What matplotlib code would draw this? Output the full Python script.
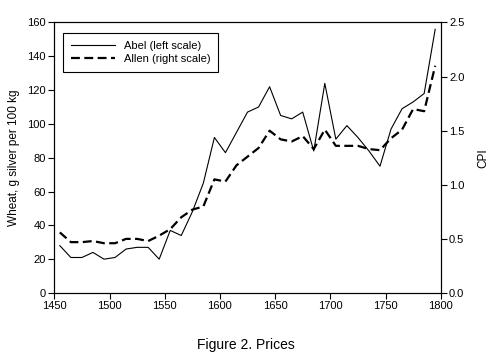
import numpy as np
import matplotlib
matplotlib.use("Agg")
import matplotlib.pyplot as plt

plt.rcParams['font.family'] = ['Liberation Sans', 'DejaVu Sans']

# Decade midpoints
years = list(range(1455, 1800, 10))

# Abel wheat price, g silver per 100 kg (left scale)
abel = [28, 21, 21, 24, 20, 21, 26, 27, 27, 20,
        37, 34, 48, 65, 92, 83, 95, 107, 110, 122,
        105, 103, 107, 84, 124, 91, 99, 92, 84, 75,
        97, 109, 113, 118, 156]

# Allen CPI (right scale)
allen = [0.56, 0.47, 0.47, 0.48, 0.46, 0.46, 0.50, 0.50, 0.48, 0.53,
         0.59, 0.70, 0.77, 0.80, 1.05, 1.03, 1.18, 1.26, 1.34, 1.50,
         1.42, 1.40, 1.45, 1.33, 1.51, 1.36, 1.36, 1.36, 1.33, 1.32,
         1.43, 1.51, 1.70, 1.68, 2.10]

fig = plt.figure(figsize=(4.91, 3.57), dpi=100)
ax = fig.add_axes([0.1106, 0.1793, 0.787, 0.7577])
ax2 = ax.twinx()

l1, = ax.plot(years, abel, color='black', lw=0.8, label='Abel (left scale)')
l2, = ax2.plot(years, allen, color='black', lw=1.6, dashes=(4, 2),
               label='Allen (right scale)')

ax.set_xlim(1450, 1800)
ax.set_ylim(0, 160)
ax2.set_ylim(0, 2.5)
ax.set_xticks(range(1450, 1801, 50))
ax.set_yticks(range(0, 161, 20))
ax2.set_yticks(np.arange(0, 2.51, 0.5))
ax2.set_yticklabels([f"{v:.1f}" for v in np.arange(0, 2.51, 0.5)])

for a in (ax, ax2):
    a.tick_params(direction='out', length=4, width=0.8, labelsize=8, pad=2)
    for s in a.spines.values():
        s.set_linewidth(0.8)

ax.set_ylabel("Wheat, g silver per 100 kg", fontsize=8.5, labelpad=5)
ax2.set_ylabel("CPI", fontsize=8.5, labelpad=9)

leg = ax.legend(handles=[l1, l2], loc='upper left', fontsize=8,
                bbox_to_anchor=(0.022, 0.961), borderaxespad=0,
                fancybox=False, edgecolor='black', framealpha=1,
                handlelength=4.0, handletextpad=0.8,
                borderpad=0.7, labelspacing=0.3)
leg.get_frame().set_linewidth(0.8)

fig.text(0.5, 0.033, "Figure 2. Prices", ha='center', va='center', fontsize=10)

fig.savefig("out.png", dpi=100)
